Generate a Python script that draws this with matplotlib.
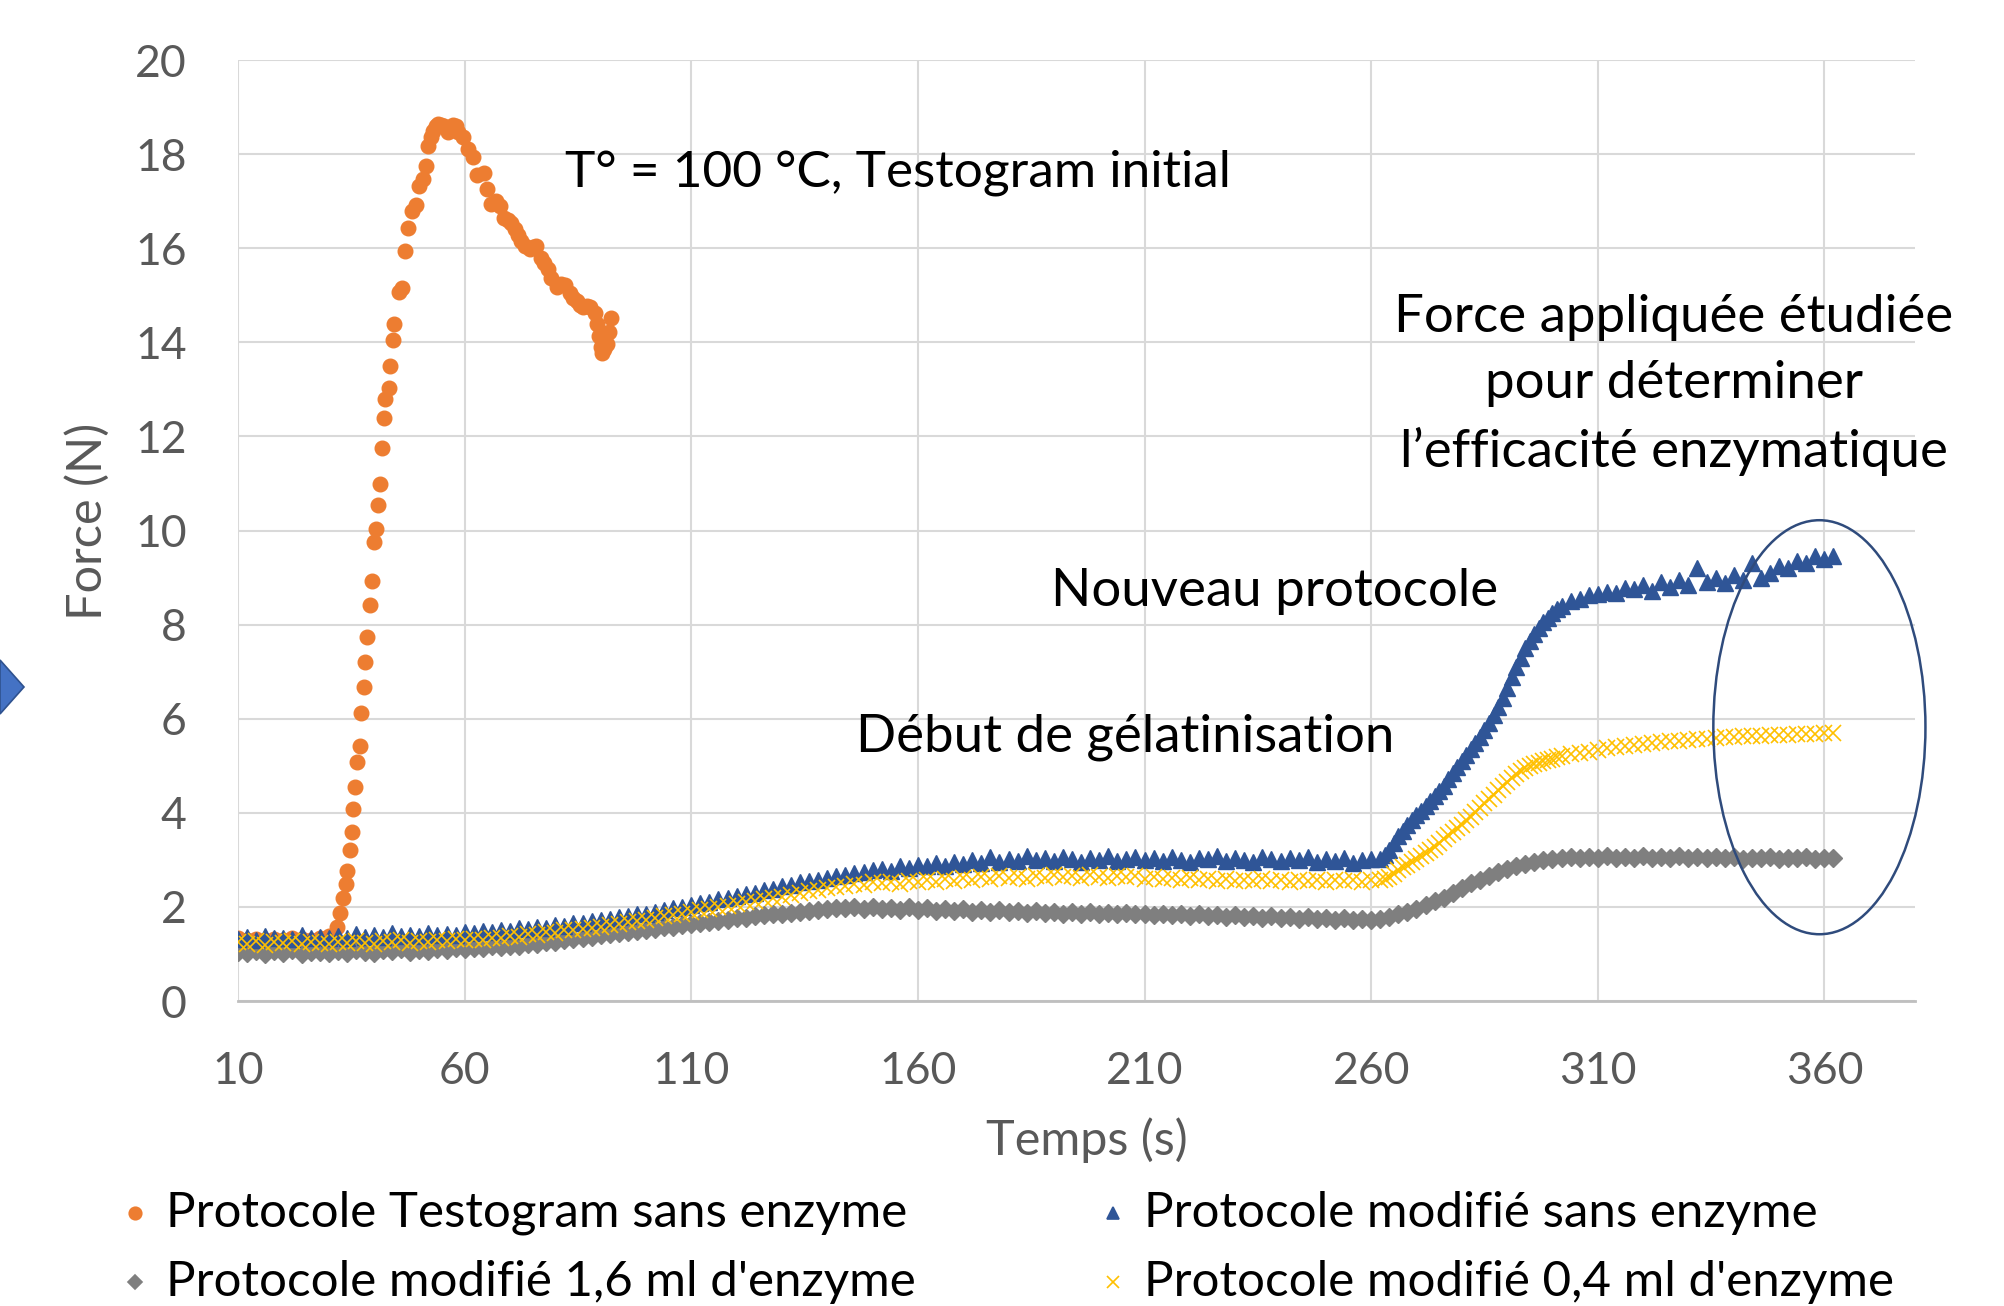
import matplotlib
matplotlib.use("Agg")
import matplotlib.pyplot as plt  # noqa: E402
import numpy as np  # noqa: E402
from matplotlib.lines import Line2D  # noqa: E402
from matplotlib.patches import Ellipse, Polygon  # noqa: E402

plt.rcParams["font.family"] = ["Lato", "DejaVu Sans"]

# Protocole Testogram sans enzyme (orange points)
t_testo = [10, 12, 14, 16, 18, 20, 22, 24, 26, 28, 30,
           31.8, 32.5, 33.2, 33.8, 34.0, 34.7, 35.1, 35.4, 35.8, 36.2,
           36.8, 37.2, 37.7, 38.0, 38.5, 39.1, 39.5, 39.9, 40.5, 40.8,
           41.4, 41.7, 42.1, 42.5, 43.2, 43.6, 44.1, 44.5, 45.5, 46.2,
           46.9, 47.4, 48.4, 49.2, 49.9, 50.7, 51.4, 51.8, 52.6, 53.0,
           53.7, 54.2, 54.8, 55.5, 56.3, 56.8, 57.4, 58.0, 58.6, 59.7,
           60.8, 61.9, 62.7, 64.2, 64.9, 65.7, 66.8, 67.9, 68.7, 69.5,
           70.2, 71.0, 71.7, 72.5, 73.2, 74.3, 75.0, 75.8, 76.9, 77.6,
           78.4, 79.1, 80.3, 81.2, 82.1, 83.2, 84.0, 84.7, 85.5, 86.2,
           87.0, 87.7, 88.8, 89.2, 89.6, 90.0, 90.3, 90.8, 91.4, 91.8, 92.2]
f_testo = [1.33, 1.30, 1.32, 1.29, 1.31, 1.30, 1.33, 1.31, 1.30, 1.34, 1.38,
           1.57, 1.88, 2.18, 2.49, 2.76, 3.22, 3.59, 4.08, 4.56, 5.08,
           5.42, 6.12, 6.67, 7.21, 7.74, 8.41, 8.92, 9.75, 10.03, 10.54,
           11.00, 11.76, 12.40, 12.79, 13.03, 13.50, 14.05, 14.39, 15.07, 15.16,
           15.95, 16.44, 16.79, 16.92, 17.32, 17.48, 17.75, 18.17, 18.36, 18.50,
           18.60, 18.65, 18.62, 18.60, 18.48, 18.55, 18.62, 18.60, 18.48, 18.36,
           18.10, 17.93, 17.56, 17.60, 17.26, 16.95, 17.01, 16.89, 16.65, 16.60,
           16.53, 16.40, 16.28, 16.15, 16.04, 15.98, 16.02, 16.04, 15.79, 15.68,
           15.55, 15.37, 15.18, 15.25, 15.21, 15.04, 14.95, 14.88, 14.80, 14.75,
           14.78, 14.75, 14.63, 14.40, 14.14, 13.90, 13.78, 13.85, 13.96, 14.21, 14.51]

# Protocoles modifiés: one reading every 2 s from t = 10 s
t_first, t_step = 10, 2
f_sans = [1.32, 1.36, 1.30, 1.38, 1.33, 1.35, 1.31, 1.40, 1.34, 1.37, 1.33,
          1.38, 1.35, 1.42, 1.36, 1.40, 1.37, 1.44, 1.38, 1.41, 1.39, 1.45, 1.40, 1.43, 1.41, 1.47,
          1.44, 1.49, 1.46, 1.52, 1.48, 1.55, 1.53, 1.58, 1.56, 1.62, 1.60, 1.66, 1.65, 1.70, 1.72,
          1.75, 1.78, 1.80, 1.84, 1.86, 1.90, 1.93, 1.97, 2.00, 2.04, 2.08, 2.10, 2.16, 2.18, 2.24,
          2.27, 2.30, 2.36, 2.38, 2.44, 2.46, 2.52, 2.55, 2.58, 2.62, 2.66, 2.68, 2.72, 2.74, 2.78,
          2.80, 2.76, 2.86, 2.82, 2.90, 2.86, 2.94, 2.88, 2.96, 2.92, 3.00, 2.94, 3.06, 2.96, 3.02,
          2.98, 3.08, 3.00, 3.04, 2.98, 3.06, 3.02, 2.96, 3.04, 3.00, 3.08, 2.98, 3.02, 3.06, 3.00,
          3.04, 2.98, 3.06, 3.00, 2.96, 3.04, 3.02, 3.08, 2.98, 3.04, 3.00, 2.96, 3.06, 3.02, 2.98,
          3.04, 3.00, 3.06, 2.96, 3.02, 2.98, 3.04, 2.94, 3.00, 3.02,
          3.02, 3.20, 3.50, 3.75, 3.95, 4.15, 4.35, 4.58, 4.85, 5.10,
          5.35, 5.62, 5.90, 6.25, 6.65, 7.10, 7.50, 7.80, 8.05, 8.25,
          8.40, 8.50, 8.55, 8.62, 8.65, 8.70, 8.68, 8.78, 8.75, 8.85,
          8.72, 8.90, 8.80, 8.95, 8.85, 9.20, 8.90, 9.00, 8.88, 9.05,
          8.95, 9.30, 9.00, 9.10, 9.25, 9.20, 9.35, 9.30, 9.45, 9.40,
          9.45]
f_16 = [1.05, 1.02, 1.07, 1.00, 1.06, 1.03, 1.08, 1.01, 1.05, 1.04, 1.02,
        1.06, 1.03, 1.08, 1.05, 1.02, 1.09, 1.06, 1.10, 1.05, 1.08, 1.07, 1.11, 1.08, 1.12, 1.10,
        1.13, 1.12, 1.16, 1.15, 1.18, 1.18, 1.22, 1.21, 1.26, 1.26, 1.30, 1.31, 1.35, 1.36, 1.40,
        1.42, 1.44, 1.47, 1.48, 1.52, 1.53, 1.57, 1.58, 1.62, 1.63, 1.66, 1.68, 1.71, 1.73, 1.76,
        1.77, 1.80, 1.82, 1.84, 1.86, 1.88, 1.90, 1.92, 1.94, 1.95, 1.97, 1.98, 2.00, 1.96, 1.99,
        1.95, 1.98, 1.94, 1.99, 1.93, 1.97, 1.92, 1.96, 1.91, 1.95, 1.90, 1.94, 1.89, 1.93, 1.90,
        1.92, 1.88, 1.91, 1.87, 1.90, 1.86, 1.89, 1.85, 1.90, 1.86, 1.88, 1.84, 1.87, 1.85, 1.86,
        1.83, 1.86, 1.82, 1.85, 1.81, 1.84, 1.80, 1.83, 1.79, 1.82, 1.78, 1.81, 1.77, 1.80, 1.76,
        1.79, 1.75, 1.78, 1.74, 1.77, 1.73, 1.76, 1.72, 1.75, 1.73,
        1.74, 1.78, 1.84, 1.90, 1.96, 2.04, 2.12, 2.20, 2.30, 2.40,
        2.50, 2.58, 2.66, 2.74, 2.80, 2.86, 2.92, 2.96, 3.00, 3.02,
        3.04, 3.06, 3.05, 3.07, 3.05, 3.08, 3.04, 3.07, 3.05, 3.09,
        3.04, 3.07, 3.05, 3.08, 3.03, 3.06, 3.04, 3.07, 3.03, 3.06,
        3.02, 3.05, 3.03, 3.06, 3.02, 3.05, 3.03, 3.06, 3.02, 3.05,
        3.04]
f_04 = [1.25, 1.22, 1.28, 1.20, 1.26, 1.23, 1.27, 1.21, 1.25, 1.24, 1.22,
        1.26, 1.23, 1.28, 1.24, 1.22, 1.27, 1.25, 1.29, 1.24, 1.28, 1.26, 1.30, 1.27, 1.31, 1.29,
        1.32, 1.30, 1.35, 1.34, 1.38, 1.37, 1.42, 1.41, 1.46, 1.45, 1.50, 1.50, 1.54, 1.56, 1.58,
        1.62, 1.64, 1.67, 1.70, 1.73, 1.76, 1.80, 1.83, 1.86, 1.90, 1.93, 1.96, 2.00, 2.03, 2.06,
        2.10, 2.12, 2.16, 2.19, 2.22, 2.26, 2.30, 2.33, 2.36, 2.40, 2.42, 2.45, 2.48, 2.47, 2.52,
        2.50, 2.54, 2.48, 2.56, 2.52, 2.58, 2.54, 2.60, 2.56, 2.62, 2.58, 2.63, 2.60, 2.65, 2.61,
        2.64, 2.60, 2.66, 2.62, 2.68, 2.63, 2.65, 2.61, 2.67, 2.64, 2.62, 2.66, 2.63, 2.65, 2.60,
        2.63, 2.59, 2.62, 2.58, 2.61, 2.57, 2.60, 2.56, 2.59, 2.55, 2.58, 2.56, 2.59, 2.55, 2.57,
        2.54, 2.58, 2.55, 2.57, 2.53, 2.58, 2.55, 2.57, 2.54, 2.57,
        2.58, 2.64, 2.78, 2.90, 3.02, 3.14, 3.28, 3.45, 3.60, 3.75,
        3.92, 4.10, 4.30, 4.48, 4.65, 4.82, 4.95, 5.03, 5.10, 5.15,
        5.20, 5.25, 5.28, 5.30, 5.34, 5.38, 5.40, 5.42, 5.44, 5.46,
        5.48, 5.50, 5.52, 5.53, 5.55, 5.57, 5.58, 5.60, 5.61, 5.62,
        5.63, 5.64, 5.64, 5.65, 5.66, 5.66, 5.67, 5.68, 5.68, 5.69,
        5.70]

# extra readings on the steep part (odd seconds 263 .. 301)
t_rise_first = 263
f_sans_rise = [3.10, 3.35, 3.62, 3.85, 4.05, 4.25, 4.47, 4.72, 4.98, 5.22,
               5.48, 5.76, 6.08, 6.45, 6.88, 7.30, 7.65, 7.93, 8.15, 8.33]
f_04_rise = [2.60, 2.70, 2.84, 2.96, 3.08, 3.21, 3.36, 3.52, 3.68, 3.84,
             4.01, 4.20, 4.39, 4.57, 4.74, 4.89, 4.99, 5.07, 5.13, 5.18]

labels = ["Protocole Testogram sans enzyme", "Protocole modifié 1,6 ml d'enzyme",
          "Protocole modifié sans enzyme", "Protocole modifié 0,4 ml d'enzyme"]
x_ticks = [10, 60, 110, 160, 210, 260, 310, 360]
y_ticks = list(range(0, 21, 2))

ORANGE, BLUE, GREY, GOLD = "#ED7D31", "#2F5597", "#7F7F7F", "#FFC000"
TICK = "#595959"

t_mod = t_first + t_step * np.arange(len(f_sans))
t_rise = t_rise_first + 2 * np.arange(len(f_sans_rise))

fig = plt.figure(figsize=(20.04, 13.06), dpi=100)
ax = fig.add_axes([0.1188, 0.2335, 0.8368, 0.7205])

# Excel order: testogram underneath, then the modified runs
ax.plot(t_testo, f_testo, ls="none", marker="o", ms=10.5, color=ORANGE, zorder=2.5)
ax.plot(t_mod, f_16, ls="none", marker="D", ms=9.5, color=GREY, zorder=3)
ax.plot(np.r_[t_mod, t_rise], np.r_[f_sans, f_sans_rise], ls="none", marker="^",
        ms=12, color=BLUE, zorder=4)
ax.plot(np.r_[t_mod, t_rise], np.r_[f_04, f_04_rise], ls="none", marker="x",
        ms=11, mew=1.2, color=GOLD, zorder=5)

ax.set_xlim(10, 380)
ax.set_ylim(0, 20)
ax.set_xticks(x_ticks)
ax.set_yticks(y_ticks)
ax.grid(True, color="#D9D9D9", lw=1.5)
ax.set_axisbelow(True)
for s in ["top", "right", "left"]:
    ax.spines[s].set_visible(False)
ax.spines["bottom"].set_color("#BFBFBF")
ax.spines["bottom"].set_linewidth(2)
ax.tick_params(length=0, labelsize=32, labelcolor=TICK)
ax.tick_params(axis="y", pad=37)
ax.tick_params(axis="x", pad=36)
ax.set_xlabel("Temps (s)", fontsize=35, color=TICK, labelpad=18)
ax.set_ylabel("Force (N)", fontsize=35, color=TICK, labelpad=18)
ax.xaxis.label.set_x(0.506)
ax.yaxis.label.set_y(0.51)

txt = dict(color="black")
ax.text(82.2, 17.6, "T° = 100 °C, Testogram initial", ha="left", va="center",
        fontsize=37, **txt)
ax.text(326.8, 13.1, "Force appliquée étudiée\npour déterminer\nl’efficacité enzymatique",
        ha="center", va="center", linespacing=1.5, fontsize=38, **txt)
ax.text(189.3, 8.7, "Nouveau protocole", ha="left", va="center", fontsize=38, **txt)
ax.text(146.4, 5.6, "Début de gélatinisation", ha="left", va="center", fontsize=38, **txt)

ax.add_patch(Ellipse((358.9, 5.82), 46.8, 8.8, fill=False, ec="#2F4B7C", lw=1.8,
                     zorder=7, clip_on=False))

# bit of a blue arrow shape cut by the left edge
fig.add_artist(Polygon([(0, 1 - 660 / 1306), (24 / 2004, 1 - 687 / 1306), (0, 1 - 714 / 1306)],
                       closed=True, transform=fig.transFigure, fc="#4472C4", ec="#2F528F",
                       lw=1.2))

# legend drawn by hand, two columns
leg = [(135, 1213, 166, "o", ORANGE, 9, labels[0]),
       (1113, 1213, 1144, "^", BLUE, 9, labels[2]),
       (135, 1282, 166, "D", GREY, 7, labels[1]),
       (1113, 1282, 1144, "x", GOLD, 9, labels[3])]
for mx, my, tx, mk, col, ms, lab in leg:
    fig.add_artist(Line2D([mx / 2004], [1 - my / 1306], transform=fig.transFigure,
                          ls="none", marker=mk, ms=ms, color=col, mew=1.2))
    fig.text(tx / 2004, 1 - my / 1306, lab, ha="left", va="center", fontsize=35.5,
             color="black")

fig.savefig("out.png", dpi=100)
